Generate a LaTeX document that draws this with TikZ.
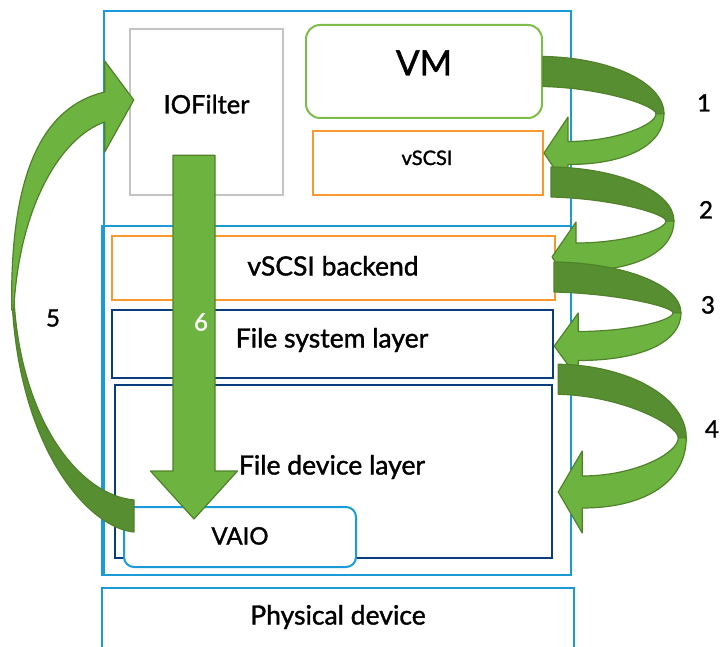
\documentclass[tikz,border=0pt]{standalone}
\usepackage{fontspec}
\setmainfont{Lato}[UprightFeatures={FakeBold=1.4}]
\usetikzlibrary{calc}

\definecolor{hostblue}{HTML}{1A9AD6}
\definecolor{scsiorange}{HTML}{F7992B}
\definecolor{layernavy}{HTML}{0B3D7A}
\definecolor{filtergray}{HTML}{C4C4C4}
\definecolor{vmgreen}{HTML}{7DBE4A}
\definecolor{arrowlight}{HTML}{6DB33F}
\definecolor{arrowdark}{HTML}{588E32}
\definecolor{arrowedge}{HTML}{4F8229}

\tikzset{
    box/.style={draw, line width=2pt, inner sep=0pt},
    txt/.style={font=\fontsize{26.5}{31}\selectfont, inner sep=0pt, text height=19pt, text depth=0pt},
    midtxt/.style={font=\fontsize{24}{28}\selectfont, inner sep=0pt, text height=17pt, text depth=0pt},
    smalltxt/.style={font=\fontsize{20}{24}\selectfont, inner sep=0pt, text height=14pt, text depth=0pt},
    bigtxt/.style={font=\fontsize{35}{42}\selectfont, inner sep=0pt, text height=25pt, text depth=0pt},
    darkpart/.style={fill=arrowdark, draw=arrowedge, line width=1.2pt, line join=round},
    lightpart/.style={fill=arrowlight, draw=arrowedge, line width=1.2pt, line join=round}
}

% curled block arrow: tail point, tip point, reach, shaft half width, head half width
\newcommand\turnarrow[5]{%
    \filldraw[darkpart] let \p1=(#1), \p2=(#2), \n1={#3}, \n2={0.52*(\y1-\y2)} in
        (\x1,{\y1+15}) .. controls ({\x1+0.55*\n1},{\y1+14}) and ({\x1+\n1},{\y1-\n2+0.55*(\n2+15)}) .. ({\x1+\n1},{\y1-\n2})
        -- ({\x1+\n1-8},{\y1-\n2}) .. controls ({\x1+\n1-8},{\y1-\n2+0.3*(\n2-15)}) and ({\x1+0.5*\n1},{\y1-16.5}) .. (\x1,{\y1-15}) -- cycle;
    \filldraw[lightpart] let \p1=(#1), \p2=(#2), \n1={#3}, \n2={0.52*(\y1-\y2)} in
        ({\x1+\n1},{\y1-\n2}) .. controls ({\x1+\n1},{\y1-\n2-0.6*(\y1-\y2+#4-\n2)}) and ({\x1+0.7*\n1},{\y2-#4}) .. ({\x2+24},{\y2-#4})
        -- ({\x2+24},{\y2-#5}) -- (\p2) -- ({\x2+24},{\y2+#5}) -- ({\x2+24},{\y2+#4})
        .. controls ({\x1+0.6*\n1},{\y2+#4}) and ({\x1+\n1-8},{\y1-\n2-0.4*(\y1-\y2-#4-\n2)}) .. ({\x1+\n1-8},{\y1-\n2}) -- cycle;
}

\begin{document}
\begin{tikzpicture}[x=1pt, y=-1pt]
    \clip (0,0) rectangle (720,647);

    % containers
    \node[box, draw=hostblue, minimum width=467, minimum height=564] (host) at (337.5,293) {};
    \node[box, draw=hostblue, minimum width=469, minimum height=349] (kernel) at (336.5,400.5) {};
    \node[box, draw=hostblue, minimum width=472, minimum height=112] (phys) at (338,644) {};

    % guest side
    \node[box, draw=filtergray, line width=2.5pt, fill=white, minimum width=153, minimum height=166] (ioflt) at (206.5,112) {};
    \node[box, draw=vmgreen, fill=white, rounded corners=14pt, minimum width=236, minimum height=93] (vm) at (424,71.5) {};
    \node[box, draw=scsiorange, fill=white, minimum width=230, minimum height=64] (vscsi) at (428,163) {};

    % kernel layers
    \node[box, draw=scsiorange, fill=white, minimum width=443, minimum height=64] (backend) at (333.5,268) {};
    \node[box, draw=layernavy, line width=2.5pt, fill=white, minimum width=441, minimum height=68] (fs) at (332.5,344) {};
    \node[box, draw=layernavy, line width=2.5pt, fill=white, minimum width=437, minimum height=173] (fdev) at (333.5,471.5) {};
    \node[box, draw=hostblue, fill=white, rounded corners=10pt, minimum width=232, minimum height=60] (vaio) at (240,537) {};

    \node[midtxt, font=\fontsize{25.5}{30}\selectfont] (iofltlbl) at (206.5,105) {IOFilter};
    \node[bigtxt] (vmlbl) at (424,63) {VM};
    \node[smalltxt] (vscsilbl) at (427,158) {vSCSI};
    \node[txt] (backendlbl) at (333,266) {vSCSI backend};
    \node[txt] (fslbl) at (332,338) {File system layer};
    \node[txt] (fdevlbl) at (332,465) {File device layer};
    \node[midtxt] (vaiolbl) at (240,536) {VAIO};
    \node[txt] (physlbl) at (338,615) {Physical device};

    % steps 1-4
    \turnarrow{vm.east}{[yshift=10pt]vscsi.east}{121}{11.5}{36}
    \turnarrow{[xshift=7pt,yshift=14pt]vscsi.south east}{[xshift=-4pt,yshift=11pt]backend.east}{123}{14}{35}
    \turnarrow{[xshift=-2pt,yshift=-9pt]backend.east}{[yshift=-2pt]fs.east}{127}{14.5}{33}
    \turnarrow{[xshift=4pt]fs.south east}{[xshift=5pt,yshift=-20.5pt]fdev.east}{128}{16}{41}

    % step 5
    \coordinate (t5) at ([xshift=11pt,yshift=21pt]vaio.west);
    \coordinate (h5) at ([xshift=5pt,yshift=12pt]ioflt.west);
    \filldraw[darkpart] ($(t5)+(-122,-216)$) .. controls ($(t5)+(-115,-66)$) and ($(t5)+(-45,12)$) .. ($(t5)+(0,16)$)
        -- ($(t5)+(0,-16)$) .. controls ($(t5)+(-55,-21)$) and ($(t5)+(-113,-96)$) .. ($(t5)+(-120,-216)$) -- cycle;
    \filldraw[lightpart] ($(h5)+(-122,210)$) .. controls ($(h5)+(-124,85)$) and ($(h5)+(-97,8)$) .. ($(h5)+(-29,-8)$)
        -- ($(h5)+(-29,-39)$) -- (h5) -- ($(h5)+(-29,52)$) -- ($(h5)+(-29,22)$)
        .. controls ($(h5)+(-75,38)$) and ($(h5)+(-115,110)$) .. ($(h5)+(-120,210)$) -- cycle;

    % step 6
    \coordinate (t6) at ([xshift=-12.5pt,yshift=41pt]ioflt.south);
    \coordinate (h6) at ([xshift=-46pt,yshift=-13pt]vaio.north);
    \filldraw[lightpart] ($(t6)+(-21,0)$) -- ($(h6)+(-21,-48)$) -- ($(h6)+(-43.5,-48)$) -- (h6)
        -- ($(h6)+(43.5,-48)$) -- ($(h6)+(21,-48)$) -- ($(t6)+(21,0)$) -- cycle;

    \node[midtxt] (n1) at (704,103) {1};
    \node[midtxt] (n2) at (706,210) {2};
    \node[midtxt] (n3) at (708,305) {3};
    \node[midtxt] (n4) at (712,429) {4};
    \node[midtxt] (n5) at (53,318) {5};
    \node[midtxt, text=white] (n6) at (201,322) {6};
\end{tikzpicture}
\end{document}
